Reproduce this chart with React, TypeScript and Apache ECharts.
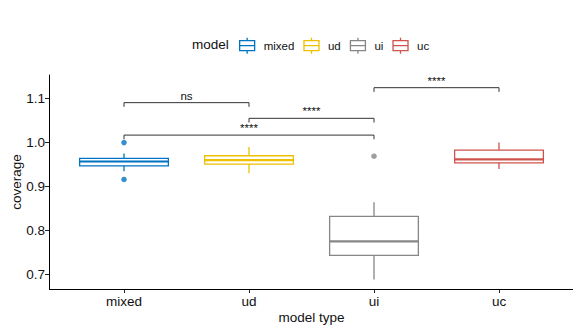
import React, { useEffect, useRef } from "react";
import * as echarts from "echarts";

// ---------- data ----------
const categories = ["mixed", "ud", "ui", "uc"];
const boxMin = [0.935, 0.93, 0.688, 0.94];
const boxQ1 = [0.947, 0.951, 0.743, 0.954];
const boxMedian = [0.957, 0.96, 0.775, 0.962];
const boxQ3 = [0.964, 0.97, 0.832, 0.983];
const boxMax = [0.975, 0.99, 0.864, 1.0];

const outlierModel = ["mixed", "mixed", "ui"];
const outlierValue = [1.0, 0.916, 0.969];

const yTicks = [0.7, 0.8, 0.9, 1.0, 1.1];

const compGroup1 = ["mixed", "ud", "mixed", "ui"];
const compGroup2 = ["ud", "ui", "ui", "uc"];
const compY = [1.091, 1.0553, 1.0171, 1.1251];
const compLabels = ["ns", "****", "****", "****"];

// ---------- styles ----------
const COLORS: Record<string, string> = {
  mixed: "#0073C2",
  ud: "#EFC000",
  ui: "#868686",
  uc: "#CD534C",
};
const FONT = "'Liberation Sans', Arial, Helvetica, sans-serif";
const W = 581;
const H = 332;
const GRID_LEFT = 61.5;
const GRID_RIGHT = 19.5;
const GRID_TOP = 75;
const GRID_BOTTOM = 43;
const Y_OFFSET = 12.5;
const Y_MIN = 0.6665;
const Y_MAX = 1.154;
const TIP = 0.0095;
const BOX_FRAC = 0.71;
const LEGEND_ICON =
  "path://M1,3 L16,3 L16,13 L1,13 Z M1,8 L16,8 M8.5,0 L8.5,3 M8.5,13 L8.5,16";

export default function App() {
  const ref = useRef<HTMLDivElement>(null);

  useEffect(() => {
    if (!ref.current) return;
    const chart = echarts.init(ref.current, undefined, { renderer: "svg" });

    const boxSeries = categories.map((c, i) => ({
      name: c,
      type: "custom",
      data: [[i, boxMin[i], boxQ1[i], boxMedian[i], boxQ3[i], boxMax[i]]],
      encode: { x: 0, y: [1, 2, 3, 4, 5] },
      z: 2,
      renderItem: (params: any, api: any) => {
        const x = api.value(0);
        const color = COLORS[c];
        const pMin = api.coord([x, api.value(1)]);
        const pQ1 = api.coord([x, api.value(2)]);
        const pMed = api.coord([x, api.value(3)]);
        const pQ3 = api.coord([x, api.value(4)]);
        const pMax = api.coord([x, api.value(5)]);
        const bw = api.size([1, 0])[0] * BOX_FRAC;
        const cx = pMed[0];
        const lw = 1.3;
        return {
          type: "group",
          children: [
            {
              type: "line",
              shape: { x1: cx, y1: pMax[1], x2: cx, y2: pQ3[1] },
              style: { stroke: color, lineWidth: lw },
            },
            {
              type: "line",
              shape: { x1: cx, y1: pQ1[1], x2: cx, y2: pMin[1] },
              style: { stroke: color, lineWidth: lw },
            },
            {
              type: "rect",
              shape: { x: cx - bw / 2, y: pQ3[1], width: bw, height: pQ1[1] - pQ3[1] },
              style: { fill: "#ffffff", stroke: color, lineWidth: lw },
            },
            {
              type: "line",
              shape: { x1: cx - bw / 2, y1: pMed[1], x2: cx + bw / 2, y2: pMed[1] },
              style: { stroke: color, lineWidth: 2.2 },
            },
          ],
        };
      },
    }));

    const outlierSeries = categories
      .map((c, i) => ({
        name: c,
        type: "scatter",
        symbol: "circle",
        symbolSize: 5.5,
        itemStyle: { color: COLORS[c] },
        z: 3,
        data: outlierModel
          .map((m, k) => (m === c ? [i, outlierValue[k]] : null))
          .filter((d) => d !== null),
      }))
      .filter((s) => s.data.length > 0);

    const bracketSeries = {
      name: "comparisons",
      type: "custom",
      z: 4,
      data: compY.map((y, k) => [
        categories.indexOf(compGroup1[k]),
        categories.indexOf(compGroup2[k]),
        y,
      ]),
      encode: { x: [0, 1], y: 2 },
      renderItem: (params: any, api: any) => {
        const a = api.value(0);
        const b = api.value(1);
        const y = api.value(2);
        const p1 = api.coord([a, y]);
        const p2 = api.coord([b, y]);
        const t = api.coord([a, y - TIP]);
        const color = "#333333";
        return {
          type: "group",
          children: [
            {
              type: "polyline",
              shape: {
                points: [
                  [p1[0], t[1]],
                  [p1[0], p1[1]],
                  [p2[0], p2[1]],
                  [p2[0], t[1]],
                ],
              },
              style: { stroke: color, lineWidth: 1, fill: "none" },
            },
            {
              type: "text",
              x: (p1[0] + p2[0]) / 2,
              y: p1[1] - 1,
              style: {
                text: compLabels[params.dataIndex],
                fill: "#111111",
                font: `11.5px ${FONT}`,
                align: "center",
                verticalAlign: "bottom",
              },
            },
          ],
        };
      },
    };

    const option: any = {
      animation: false,
      backgroundColor: "#ffffff",
      textStyle: { fontFamily: FONT },
      title: {
        text: "model",
        left: 192,
        top: 37,
        padding: 0,
        textStyle: { fontSize: 13.5, fontWeight: "normal", color: "#111111", fontFamily: FONT },
      },
      legend: {
        left: 239,
        top: 37,
        padding: 0,
        itemWidth: 17,
        itemHeight: 16,
        itemGap: 9,
        selectedMode: false,
        textStyle: { fontSize: 11.5, color: "#111111", fontFamily: FONT, padding: [0, 0, 0, 3] },
        data: categories.map((c) => ({
          name: c,
          icon: LEGEND_ICON,
          itemStyle: { color: "transparent", borderColor: COLORS[c], borderWidth: 1.3 },
        })),
      },
      grid: {
        left: GRID_LEFT,
        right: GRID_RIGHT,
        top: GRID_TOP,
        bottom: GRID_BOTTOM,
        containLabel: false,
        outerBoundsMode: "none",
      },
      xAxis: {
        type: "category",
        data: categories,
        boundaryGap: true,
        name: "model type",
        nameLocation: "middle",
        nameGap: 21,
        nameMoveOverlap: false,
        nameTextStyle: { fontSize: 13.5, color: "#111111", fontFamily: FONT },
        axisLine: { show: false },
        axisTick: { show: true, alignWithLabel: true, length: 4, lineStyle: { color: "#222222" } },
        axisLabel: { fontSize: 13.5, color: "#111111", margin: 5, fontFamily: FONT },
        splitLine: { show: false },
      },
      yAxis: {
        type: "value",
        min: Y_MIN,
        max: Y_MAX,
        offset: Y_OFFSET,
        name: "coverage",
        nameLocation: "middle",
        nameGap: 26,
        nameMoveOverlap: false,
        nameTextStyle: { fontSize: 13.5, color: "#111111", fontFamily: FONT },
        axisLine: { show: true, lineStyle: { color: "#000000", width: 1 } },
        axisTick: {
          show: true,
          length: 4,
          customValues: yTicks,
          lineStyle: { color: "#222222" },
        },
        axisLabel: {
          fontSize: 13.5,
          color: "#111111",
          margin: 4,
          fontFamily: FONT,
          customValues: yTicks,
          formatter: (v: number) => v.toFixed(1),
        },
        splitLine: { show: false },
      },
      graphic: [
        {
          type: "line",
          shape: {
            x1: GRID_LEFT - Y_OFFSET,
            y1: H - GRID_BOTTOM + 0.5,
            x2: W - GRID_RIGHT + Y_OFFSET,
            y2: H - GRID_BOTTOM + 0.5,
          },
          style: { stroke: "#000000", lineWidth: 1 },
          z: 10,
        },
      ],
      series: [...boxSeries, ...outlierSeries, bracketSeries],
    };

    chart.setOption(option);
    return () => chart.dispose();
  }, []);

  return <div ref={ref} style={{ width: W, height: H, marginLeft: -8, marginTop: -8 }} />;
}
